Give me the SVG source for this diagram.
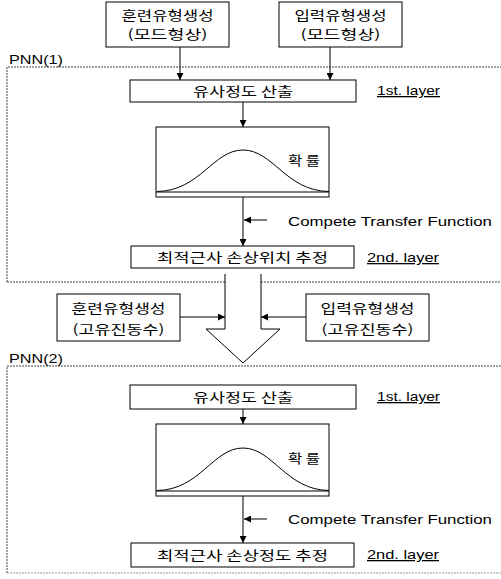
<svg xmlns="http://www.w3.org/2000/svg" width="501" height="579" viewBox="0 0 501 579">
<defs>
<marker id="ah" viewBox="0 0 10 10" refX="10" refY="5" markerWidth="7" markerHeight="7" markerUnits="userSpaceOnUse" orient="auto"><path d="M0,0 L10,5 L0,10 z" fill="#000"/></marker>
<style>
.bx{fill:#fff;stroke:#000;stroke-width:1}
.ln{fill:none;stroke:#000;stroke-width:1}
.dash{fill:none;stroke:#444;stroke-width:1;stroke-dasharray:2,1}
.dash2{fill:none;stroke:#999;stroke-width:1;stroke-dasharray:2,1}
.kr{font-family:"Noto Sans CJK KR","Liberation Sans",sans-serif;font-size:13px;fill:#000}
.en{font-family:"Liberation Sans","Noto Sans CJK KR",sans-serif;font-size:13px;fill:#000}
.c{text-anchor:middle}
.u{text-decoration:underline}
</style>
</defs>
<rect width="501" height="579" fill="#fff"/>
<g id="pnn1-frame">
<path class="dash" d="M7,282 V67 H501"/>
<path class="dash" d="M7,282 H225 M261,282 H501"/>
<text class="en" x="9" y="64" textLength="54" lengthAdjust="spacingAndGlyphs">PNN(1)</text>
</g>
<g id="pnn2-frame">
<path class="dash" d="M7,573 V366 H501"/>
<path class="dash2" d="M7,573 H501"/>
<text class="en" x="9" y="363" textLength="54" lengthAdjust="spacingAndGlyphs">PNN(2)</text>
</g>
<g id="connectors">
<path class="ln" marker-end="url(#ah)" d="M180,47 V80"/>
<path class="ln" marker-end="url(#ah)" d="M330,47 V80"/>
<path class="ln" marker-end="url(#ah)" d="M243,102 V127"/>
<path class="ln" marker-end="url(#ah)" d="M243,197 V246"/>
<path class="ln" marker-end="url(#ah)" d="M267,220 H244"/>
<path class="ln" marker-end="url(#ah)" d="M180,317 H225"/>
<path class="ln" marker-end="url(#ah)" d="M306,317 H261"/>
<path class="ln" marker-end="url(#ah)" d="M243,409 V424"/>
<path class="ln" marker-end="url(#ah)" d="M243,496 V543"/>
<path class="ln" marker-end="url(#ah)" d="M267,519 H244"/>
</g>
<g id="big-arrow">
<path d="M225,274 V329 H206 L243,363 L280,329 H261 V274" fill="#fff" stroke="#000" stroke-width="1"/>
</g>
<g id="train-mode">
<rect class="bx" x="106" y="2" width="123" height="45"/>
<text class="kr c" x="167.5" y="20" textLength="92" lengthAdjust="spacingAndGlyphs">훈련유형생성</text>
<text class="kr c" x="167.5" y="39" textLength="80" lengthAdjust="spacingAndGlyphs">(모드형상)</text>
</g>
<g id="input-mode">
<rect class="bx" x="279" y="2" width="123" height="45"/>
<text class="kr c" x="340.5" y="20" textLength="92" lengthAdjust="spacingAndGlyphs">입력유형생성</text>
<text class="kr c" x="340.5" y="39" textLength="80" lengthAdjust="spacingAndGlyphs">(모드형상)</text>
</g>
<g id="layer1-a">
<rect class="bx" x="130" y="80" width="226" height="22"/>
<text class="kr c" x="243" y="96" textLength="100" lengthAdjust="spacingAndGlyphs">유사정도 산출</text>
<text class="en u" x="377" y="95" textLength="63" lengthAdjust="spacingAndGlyphs">1st. layer</text>
</g>
<g id="prob-a">
<rect class="bx" x="156" y="127" width="173" height="70"/>
<path class="ln" d="M156,192 H329"/>
<path class="ln" d="M157,191.5 C200,191 213,150 243,150 C273,150 286,191 329,191.5"/>
<text class="kr" x="288" y="165" textLength="32" lengthAdjust="spacingAndGlyphs">확 률</text>
</g>
<text class="en" x="288" y="226" textLength="204" lengthAdjust="spacingAndGlyphs">Compete Transfer Function</text>
<g id="layer2-a">
<rect class="bx" x="131" y="246" width="223" height="22"/>
<text class="kr c" x="242.5" y="262" textLength="171" lengthAdjust="spacingAndGlyphs">최적근사 손상위치 추정</text>
<text class="en u" x="367" y="262" textLength="72" lengthAdjust="spacingAndGlyphs">2nd. layer</text>
</g>
<g id="train-freq">
<rect class="bx" x="57" y="294" width="123" height="47"/>
<text class="kr c" x="118.5" y="313" textLength="94" lengthAdjust="spacingAndGlyphs">훈련유형생성</text>
<text class="kr c" x="118.5" y="334" textLength="92" lengthAdjust="spacingAndGlyphs">(고유진동수)</text>
</g>
<g id="input-freq">
<rect class="bx" x="306" y="294" width="123" height="47"/>
<text class="kr c" x="367.5" y="313" textLength="94" lengthAdjust="spacingAndGlyphs">입력유형생성</text>
<text class="kr c" x="367.5" y="334" textLength="92" lengthAdjust="spacingAndGlyphs">(고유진동수)</text>
</g>
<g id="layer1-b">
<rect class="bx" x="130" y="385" width="226" height="24"/>
<text class="kr c" x="243" y="402" textLength="100" lengthAdjust="spacingAndGlyphs">유사정도 산출</text>
<text class="en u" x="377" y="401" textLength="63" lengthAdjust="spacingAndGlyphs">1st. layer</text>
</g>
<g id="prob-b">
<rect class="bx" x="156" y="424" width="173" height="72"/>
<path class="ln" d="M156,491 H329"/>
<path class="ln" d="M157,490.5 C200,490 213,448 243,448 C273,448 286,490 329,490.5"/>
<text class="kr" x="288" y="463" textLength="32" lengthAdjust="spacingAndGlyphs">확 률</text>
</g>
<text class="en" x="288" y="524" textLength="204" lengthAdjust="spacingAndGlyphs">Compete Transfer Function</text>
<g id="layer2-b">
<rect class="bx" x="131" y="543" width="223" height="24"/>
<text class="kr c" x="242.5" y="560" textLength="171" lengthAdjust="spacingAndGlyphs">최적근사 손상정도 추정</text>
<text class="en u" x="367" y="559" textLength="72" lengthAdjust="spacingAndGlyphs">2nd. layer</text>
</g>
</svg>
